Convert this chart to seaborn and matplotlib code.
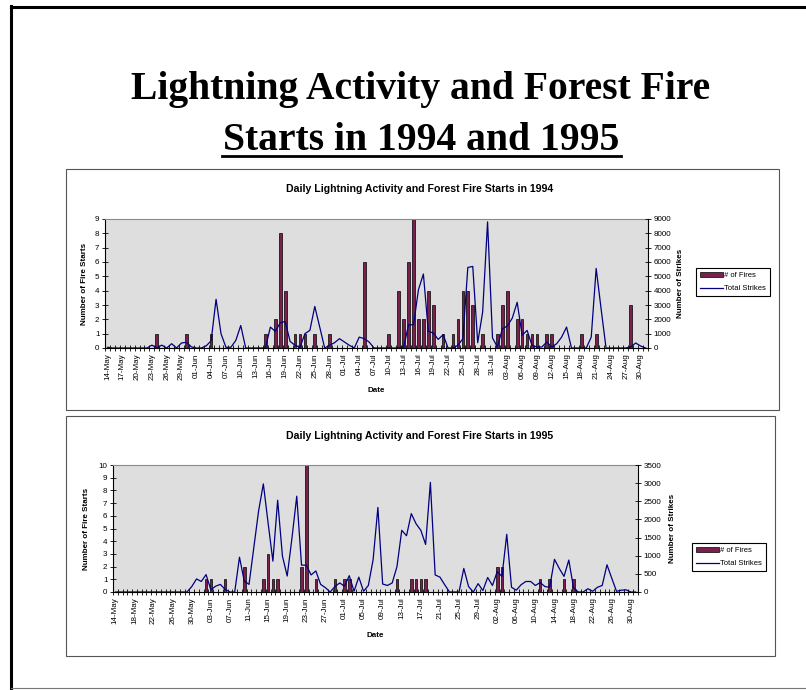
import numpy as np
import pandas as pd
import matplotlib
matplotlib.use("Agg")
import matplotlib.pyplot as plt
import seaborn as sns
from matplotlib.lines import Line2D
from matplotlib.patches import Rectangle, Patch

# daily values, 14-May to 31-Aug
fires_1994 = [0, 0, 0, 0, 0, 0, 0, 0, 0, 0,
              1, 0, 0, 0, 0, 0, 1, 0, 0, 0,
              0, 1, 0, 0, 0, 0, 0, 0, 0, 0,
              0, 0, 1, 0, 2, 8, 4, 0, 1, 1,
              1, 0, 1, 0, 0, 1, 0, 0, 0, 0,
              0, 0, 6, 0, 0, 0, 0, 1, 0, 4,
              2, 6, 9, 2, 2, 4, 3, 0, 1, 0,
              1, 2, 4, 4, 3, 0, 1, 0, 0, 1,
              3, 4, 0, 2, 2, 1, 1, 1, 0, 1,
              1, 0, 0, 0, 0, 0, 1, 0, 0, 1,
              0, 0, 0, 0, 0, 0, 3, 0, 0, 0]
strikes_1994 = [50, 0, 0, 0, 0, 0, 0, 0, 0, 200,
                0, 200, 0, 300, 0, 350, 400, 80, 0, 0,
                150, 500, 3400, 1000, 50, 50, 530, 1570, 0, 0,
                0, 0, 0, 1460, 1160, 1760, 1850, 460, 190, 50,
                1000, 1230, 2900, 1460, 0, 190, 370, 650, 420, 190,
                0, 760, 650, 420, 0, 0, 0, 0, 0, 0,
                70, 1620, 1620, 4070, 5160, 1160, 1050, 600, 930, 0,
                0, 190, 650, 5620, 5690, 370, 2500, 8800, 700, 70,
                1340, 1530, 2080, 3190, 880, 1230, 190, 70, 70, 420,
                70, 300, 760, 1460, 0, 0, 0, 0, 760, 5550,
                2730, 0, 0, 0, 0, 0, 70, 350, 140, 0]

fires_1995 = [0, 0, 0, 0, 0, 0, 0, 0, 0, 0,
              0, 0, 0, 0, 0, 0, 0, 0, 0, 1,
              1, 0, 0, 1, 0, 0, 0, 2, 0, 0,
              0, 1, 3, 1, 1, 0, 0, 0, 0, 2,
              10, 0, 1, 0, 0, 0, 1, 0, 1, 1,
              0, 0, 0, 0, 0, 0, 0, 0, 0, 1,
              0, 0, 1, 1, 1, 1, 0, 0, 0, 0,
              0, 0, 0, 0, 0, 0, 0, 0, 0, 0,
              2, 2, 0, 0, 0, 0, 0, 0, 0, 1,
              0, 1, 0, 0, 1, 0, 1, 0, 0, 0,
              0, 0, 0, 0, 0, 0, 0, 0, 0, 0]
strikes_1995 = [0, 0, 0, 0, 0, 0, 0, 0, 0, 0,
                0, 0, 0, 0, 0, 0, 150, 360, 290, 480,
                60, 160, 210, 70, 0, 0, 960, 300, 210, 1220,
                2230, 2980, 1900, 850, 2530, 990, 440, 1490, 2640, 740,
                740, 470, 580, 210, 120, 0, 150, 250, 160, 450,
                20, 410, 20, 180, 890, 2330, 220, 180, 250, 700,
                1700, 1550, 2160, 1880, 1700, 1310, 3020, 470, 410, 200,
                0, 0, 0, 650, 150, 0, 230, 40, 400, 180,
                560, 430, 1590, 130, 50, 200, 290, 290, 180, 260,
                150, 130, 900, 650, 430, 880, 110, 0, 0, 90,
                20, 130, 180, 750, 380, 20, 50, 60, 0, 0]

days_1994 = pd.date_range("1994-05-14", "1994-08-31").strftime("%d-%b").tolist()
days_1995 = pd.date_range("1995-05-14", "1995-08-31").strftime("%d-%b").tolist()

BAR = "#7b1f4f"
LINE = "#000080"
PLOT_BG = "#dedede"

plt.rcParams["font.family"] = ["Liberation Sans", "DejaVu Sans"]

W, H = 806, 690
fig = plt.figure(figsize=(W / 100, H / 100), dpi=100)


def fx(px):
    return px / W


def fy(py):
    return 1 - py / H


def fig_line(xs, ys, **kw):
    fig.add_artist(Line2D([fx(x) for x in xs], [fy(y) for y in ys],
                          transform=fig.transFigure, **kw))


# slide frame
fig_line([11, 806], [7, 7], color="black", lw=2.2)
fig_line([11, 11], [6, 690], color="black", lw=2.2)
fig_line([11, 806], [688, 688], color="#777777", lw=0.8)

# big title
fig.text(fx(421), fy(99), "Lightning Activity and Forest Fire", family="Liberation Serif",
         fontweight="bold", fontsize=28.5, ha="center", va="baseline")
fig.text(fx(421), fy(150), "Starts in 1994 and 1995", family="Liberation Serif",
         fontweight="bold", fontsize=28.5, ha="center", va="baseline")
fig_line([222, 621], [156, 156], color="black", lw=2.0)


def draw_chart(box, plot, labels, fires, strikes, fire_max, strike_max, strike_step,
               every, title, title_y, legend_xy, left_x, right_x, date_y):
    x0, y0, x1, y1 = box
    fig.add_artist(Rectangle((fx(x0), fy(y1)), fx(x1) - fx(x0), fy(y0) - fy(y1),
                             transform=fig.transFigure, facecolor="none",
                             edgecolor="#555555", lw=0.8))
    fig.text(fx(420), fy(title_y), title, fontsize=7.6,
             fontweight="bold", ha="center", va="center")

    px0, py0, px1, py1 = plot
    ax = fig.add_axes([fx(px0), fy(py1), fx(px1) - fx(px0), fy(py0) - fy(py1)])
    n = len(labels)
    df = pd.DataFrame({"day": np.arange(n), "fires": fires, "strikes": strikes})
    sns.barplot(data=df, x="day", y="fires", ax=ax, color=BAR, saturation=1,
                width=0.55, edgecolor="black", linewidth=0.5)
    ax.set_facecolor(PLOT_BG)
    ax2 = ax.twinx()
    sns.lineplot(data=df, x="day", y="strikes", ax=ax2, color=LINE, linewidth=0.9)
    ax.set_xlim(-0.5, n - 0.5)
    ax2.set_xlim(-0.5, n - 0.5)
    ax.set_ylim(0, fire_max)
    ax2.set_ylim(0, strike_max)

    ax.set_xticks(np.arange(0, n, every))
    ax.set_xticklabels([labels[i] for i in range(0, n, every)], rotation=90, fontsize=5.8)
    ax.set_xticks(np.arange(-0.5, n, 1), minor=True)
    ax.tick_params(axis="x", which="major", length=0, pad=4)
    ax.tick_params(axis="x", which="minor", direction="inout", length=4, width=0.6)
    ax.set_yticks(np.arange(0, fire_max + 1, 1))
    ax.tick_params(axis="y", labelsize=5.8, direction="inout", length=4, width=0.6, pad=2)
    ax2.set_yticks(np.arange(0, strike_max + 1, strike_step))
    ax2.tick_params(axis="y", labelsize=5.8, direction="inout", length=4, width=0.6, pad=2)

    ax.set_xlabel("Date", fontsize=5.8, fontweight="bold")
    ax.xaxis.set_label_coords(0.5, date_y)
    ax.xaxis.label.set_va("center")
    ax.set_ylabel("Number of Fire Starts", fontsize=5.8, fontweight="bold")
    ax.yaxis.set_label_coords(left_x, 0.5)
    ax.yaxis.label.set_va("center")
    ax2.set_ylabel("Number of Strikes", fontsize=5.8, fontweight="bold")
    ax2.yaxis.set_label_coords(right_x, 0.5)
    ax2.yaxis.label.set_va("center")

    for s in ["left", "bottom"]:
        ax.spines[s].set_color("black")
        ax.spines[s].set_linewidth(0.8)
    ax.spines["top"].set_color("#8a8a8a")
    ax.spines["top"].set_linewidth(0.8)
    ax.spines["right"].set_visible(False)
    for s in ["left", "bottom", "top"]:
        ax2.spines[s].set_visible(False)
    ax2.spines["right"].set_color("black")
    ax2.spines["right"].set_linewidth(0.8)

    handles = [Patch(facecolor=BAR, edgecolor="black", linewidth=0.5),
               Line2D([], [], color=LINE, lw=0.9)]
    leg = fig.legend(handles, ["# of Fires", "Total Strikes"], loc="center",
                     bbox_to_anchor=(fx(legend_xy[0]), fy(legend_xy[1])),
                     fontsize=5.5, frameon=True, fancybox=False, edgecolor="black",
                     framealpha=1, handlelength=3.0, handleheight=0.6,
                     handletextpad=0.2, borderpad=0.5, labelspacing=0.8,
                     borderaxespad=0)
    leg.get_frame().set_linewidth(0.8)


draw_chart((66, 169, 779, 410), (105, 219, 648, 348), days_1994, fires_1994, strikes_1994,
           9, 9000, 1000, 3, "Daily Lightning Activity and Forest Fire Starts in 1994", 189,
           (733, 282), -0.037, 1.059, -0.33)
draw_chart((66, 416, 775, 656), (113, 465, 638, 592), days_1995, fires_1995, strikes_1995,
           10, 3500, 500, 4, "Daily Lightning Activity and Forest Fire Starts in 1995", 436,
           (729, 557), -0.051, 1.065, -0.339)

fig.savefig("out.png", dpi=100)
